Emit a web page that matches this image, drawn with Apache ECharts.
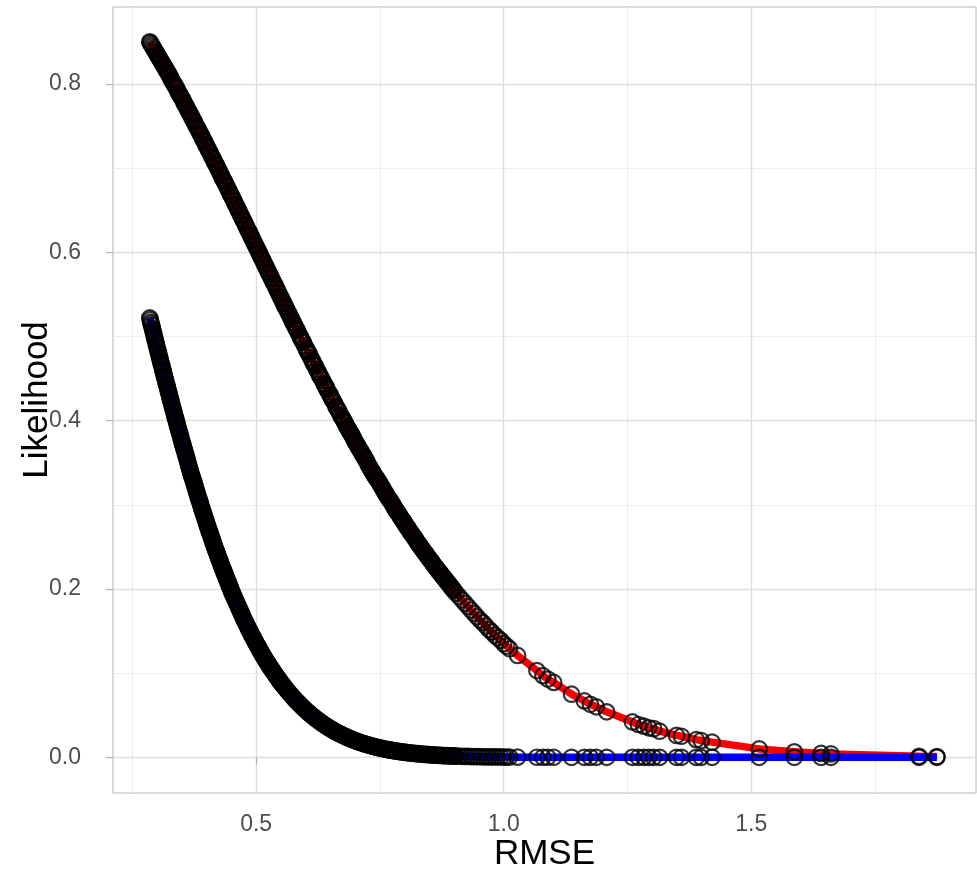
<!DOCTYPE html>
<html>
<head>
<meta charset="utf-8">
<script src="https://cdn.jsdelivr.net/npm/echarts@6/dist/echarts.min.js"></script>
<style>
html,body{margin:0;padding:0;background:#fff;}
#chart{width:977px;height:871px;}
</style>
</head>
<body>
<div id="chart"></div>
<script>
// Dense run of the upper (red) curve: RMSE and likelihood
const rmseRed = [
0.285,0.286,
0.288,0.290,0.292,0.294,0.296,0.298,0.300,0.302,0.304,0.306,
0.308,0.310,0.312,0.314,0.316,0.318,0.320,0.322,0.324,0.326,
0.328,0.330,0.332,0.334,0.336,0.338,0.340,0.342,0.344,0.346,
0.348,0.350,0.352,0.354,0.356,0.358,0.360,0.362,0.364,0.366,
0.368,0.370,0.372,0.374,0.376,0.378,0.380,0.382,0.384,0.386,
0.388,0.390,0.392,0.394,0.396,0.398,0.400,0.402,0.404,0.406,
0.408,0.410,0.412,0.414,0.416,0.418,0.420,0.422,0.424,0.426,
0.428,0.430,0.432,0.434,0.436,0.438,0.440,0.442,0.444,0.446,
0.448,0.450,0.452,0.454,0.456,0.458,0.460,0.462,0.464,0.466,
0.468,0.470,0.472,0.474,0.476,0.478,0.480,0.482,0.484,0.486,
0.488,0.490,0.492,0.494,0.496,0.498,0.500,0.502,0.504,0.506,
0.508,0.510,0.512,0.514,0.516,0.518,0.520,0.522,0.524,0.526,
0.528,0.530,0.532,0.534,0.536,0.538,0.540,0.542,0.544,0.546,
0.548,0.550,0.552,0.554,0.556,0.558,0.560,0.562,0.564,0.566,
0.568,0.570,0.572,0.574,0.576,0.578,0.580,0.582,0.583,0.586,
0.589,0.590,0.592,0.594,0.595,0.598,0.601,0.602,0.604,0.606,
0.607,0.610,0.613,0.614,0.616,0.618,0.619,0.622,0.625,0.626,
0.628,0.630,0.631,0.634,0.637,0.638,0.640,0.642,0.643,0.646,
0.649,0.650,0.652,0.654,0.655,0.658,0.661,0.662,0.664,0.666,
0.667,0.670,0.672,0.674,0.676,0.678,0.680,0.682,0.684,0.686,
0.688,0.690,0.692,0.694,0.696,0.698,0.700,0.702,0.704,0.706,
0.708,0.710,0.712,0.714,0.716,0.718,0.720,0.722,0.724,0.726,
0.728,0.730,0.732,0.734,0.736,0.738,0.740,0.742,0.744,0.746,
0.748,0.750,0.752,0.754,0.756,0.758,0.760,0.762,0.764,0.766,
0.768,0.770,0.772,0.774,0.776,0.778,0.780,0.782,0.784,0.786,
0.788,0.790,0.792,0.794,0.796,0.798,0.800,0.802,0.804,0.806,
0.808,0.810,0.812,0.814,0.816,0.818,0.820,0.822,0.824,0.826,
0.828,0.830,0.832,0.834,0.836,0.838,0.840,0.842,0.844,0.846,
0.848,0.850,0.852,0.854,0.856,0.858,0.860,0.862,0.864,0.866,
0.868,0.870,0.872,0.874,0.876,0.878,0.880,0.882,0.884,0.886,
0.888,0.890,0.892,0.894,0.896,0.898,0.900];
const likRed = [
0.850,0.849,
0.847,0.845,0.843,0.841,0.839,0.837,0.835,0.833,0.831,0.829,
0.827,0.825,0.823,0.821,0.819,0.817,0.815,0.813,0.811,0.809,
0.806,0.804,0.802,0.800,0.798,0.796,0.794,0.791,0.789,0.787,
0.785,0.783,0.781,0.778,0.776,0.774,0.772,0.769,0.767,0.765,
0.763,0.760,0.758,0.756,0.754,0.751,0.749,0.747,0.745,0.742,
0.740,0.738,0.735,0.733,0.731,0.728,0.726,0.724,0.721,0.719,
0.717,0.714,0.712,0.710,0.707,0.705,0.703,0.700,0.698,0.696,
0.693,0.691,0.688,0.686,0.684,0.681,0.679,0.677,0.674,0.672,
0.669,0.667,0.665,0.662,0.660,0.657,0.655,0.653,0.650,0.648,
0.645,0.643,0.640,0.638,0.636,0.633,0.631,0.628,0.626,0.624,
0.621,0.619,0.616,0.614,0.611,0.609,0.607,0.604,0.602,0.599,
0.597,0.594,0.592,0.590,0.587,0.585,0.582,0.580,0.577,0.575,
0.573,0.570,0.568,0.565,0.563,0.561,0.558,0.556,0.553,0.551,
0.548,0.546,0.544,0.541,0.539,0.536,0.534,0.532,0.529,0.527,
0.525,0.522,0.520,0.517,0.515,0.513,0.510,0.508,0.507,0.503,
0.500,0.498,0.496,0.494,0.493,0.489,0.486,0.484,0.482,0.480,
0.479,0.475,0.472,0.470,0.468,0.466,0.465,0.461,0.458,0.457,
0.454,0.452,0.451,0.448,0.444,0.443,0.441,0.439,0.437,0.434,
0.431,0.430,0.427,0.425,0.424,0.421,0.417,0.416,0.414,0.412,
0.411,0.407,0.405,0.403,0.401,0.399,0.397,0.394,0.392,0.390,
0.388,0.386,0.384,0.382,0.380,0.377,0.375,0.373,0.371,0.369,
0.367,0.365,0.363,0.361,0.359,0.357,0.355,0.353,0.351,0.348,
0.346,0.344,0.342,0.340,0.338,0.336,0.334,0.332,0.331,0.329,
0.327,0.325,0.323,0.321,0.319,0.317,0.315,0.313,0.311,0.309,
0.307,0.306,0.304,0.302,0.300,0.298,0.296,0.294,0.292,0.291,
0.289,0.287,0.285,0.283,0.282,0.280,0.278,0.276,0.274,0.273,
0.271,0.269,0.267,0.266,0.264,0.262,0.261,0.259,0.257,0.255,
0.254,0.252,0.250,0.249,0.247,0.245,0.244,0.242,0.241,0.239,
0.237,0.236,0.234,0.233,0.231,0.229,0.228,0.226,0.225,0.223,
0.222,0.220,0.219,0.217,0.216,0.214,0.213,0.211,0.210,0.208,
0.207,0.205,0.204,0.202,0.201,0.199,0.198];

// Dense run of the lower (blue) curve
const rmseBlue = [
0.285,0.286,0.287,
0.288,0.289,0.290,0.291,0.292,0.293,0.294,0.295,0.296,0.297,
0.298,0.299,0.300,0.301,0.302,0.303,0.304,0.305,0.306,0.307,
0.308,0.309,0.310,0.311,0.312,0.313,0.314,0.315,0.316,0.317,
0.318,0.319,0.320,0.321,0.322,0.323,0.324,0.325,0.326,0.327,
0.328,0.329,0.330,0.331,0.332,0.333,0.334,0.335,0.336,0.337,
0.338,0.339,0.340,0.341,0.342,0.343,0.344,0.345,0.346,0.347,
0.348,0.349,0.350,0.351,0.352,0.353,0.354,0.355,0.356,0.357,
0.358,0.359,0.360,0.361,0.362,0.363,0.364,0.365,0.366,0.367,
0.368,0.369,0.370,0.371,0.372,0.373,0.374,0.375,0.376,0.377,
0.378,0.379,0.380,0.381,0.382,0.383,0.384,0.385,0.386,0.387,
0.388,0.389,0.390,0.391,0.392,0.393,0.394,0.395,0.396,0.397,
0.398,0.399,0.400,0.401,0.402,0.403,0.404,0.405,0.406,0.407,
0.408,0.409,0.410,0.411,0.412,0.413,0.414,0.415,0.416,0.417,
0.418,0.419,0.420,0.421,0.422,0.423,0.424,0.425,0.426,0.427,
0.428,0.429,0.430,0.431,0.432,0.433,0.434,0.435,0.436,0.437,
0.438,0.439,0.440,0.441,0.442,0.443,0.444,0.445,0.446,0.447,
0.448,0.449,0.450,0.451,0.452,0.4535,0.455,0.4565,0.458,0.4595,
0.461,0.4625,0.464,0.4655,0.467,0.4685,0.470,0.4715,0.473,0.4745,
0.476,0.4775,0.479,0.4805,0.482,0.4835,0.485,0.4865,0.488,0.4895,
0.491,0.4925,0.494,0.4955,0.497,0.4985,0.500,0.5015,0.503,0.5045,
0.506,0.5075,0.509,0.5105,0.512,0.5135,0.515,0.5165,0.518,0.5195,
0.521,0.5225,0.524,0.5255,0.527,0.5285,0.530,0.5315,0.533,0.5345,
0.536,0.5375,0.539,0.5405,0.542,0.5435,0.545,0.5465,0.548,0.5495,
0.551,0.5525,0.554,0.5555,0.557,0.5595,0.562,0.5645,0.567,0.5695,
0.572,0.5745,0.577,0.5795,0.582,0.5845,0.587,0.5895,0.592,0.5945,
0.597,0.5995,0.602,0.6045,0.607,0.6095,0.612,0.6145,0.617,0.6195,
0.622,0.6245,0.627,0.6295,0.632,0.6345,0.637,0.6395,0.642,0.6445,
0.647,0.6495,0.652,0.6545,0.657,0.6595,0.662,0.6645,0.667,0.6695,
0.672,0.6745,0.677,0.6795,0.682,0.6845,0.687,0.6895,0.692,0.6945,
0.697,0.700,0.703,0.706,0.709,0.712,0.715,0.718,0.721,0.724,
0.727,0.730,0.733,0.736,0.739,0.742,0.745,0.748,0.751,0.754,
0.757,0.760,0.763,0.766,0.769,0.772,0.775,0.778,0.781,0.784,
0.787,0.790,0.793,0.796,0.799,0.802,0.805,0.808,0.811,0.814,
0.817,0.820,0.823,0.826,0.829,0.832,0.835,0.838,0.841,0.844,
0.847,0.850,0.853,0.856,0.859,0.862,0.865,0.868,0.871,0.874,
0.877,0.880,0.883,0.886,0.889,0.892,0.895,0.898,0.901];
const likBlue = [
0.522,0.520,0.517,
0.515,0.513,0.510,0.508,0.506,0.503,0.501,0.498,0.496,0.494,
0.491,0.489,0.487,0.484,0.482,0.480,0.477,0.475,0.473,0.470,
0.468,0.466,0.464,0.461,0.459,0.457,0.454,0.452,0.450,0.448,
0.445,0.443,0.441,0.439,0.436,0.434,0.432,0.430,0.427,0.425,
0.423,0.421,0.418,0.416,0.414,0.412,0.410,0.407,0.405,0.403,
0.401,0.399,0.397,0.394,0.392,0.390,0.388,0.386,0.384,0.382,
0.380,0.377,0.375,0.373,0.371,0.369,0.367,0.365,0.363,0.361,
0.359,0.357,0.355,0.353,0.351,0.348,0.346,0.344,0.342,0.340,
0.338,0.336,0.334,0.332,0.331,0.329,0.327,0.325,0.323,0.321,
0.319,0.317,0.315,0.313,0.311,0.309,0.307,0.306,0.304,0.302,
0.300,0.298,0.296,0.294,0.292,0.291,0.289,0.287,0.285,0.283,
0.282,0.280,0.278,0.276,0.274,0.273,0.271,0.269,0.267,0.266,
0.264,0.262,0.261,0.259,0.257,0.255,0.254,0.252,0.250,0.249,
0.247,0.245,0.244,0.242,0.241,0.239,0.237,0.236,0.234,0.233,
0.231,0.229,0.228,0.226,0.225,0.223,0.222,0.220,0.219,0.217,
0.216,0.214,0.213,0.211,0.210,0.208,0.207,0.205,0.204,0.202,
0.201,0.199,0.198,0.196,0.195,0.193,0.191,0.189,0.187,0.185,
0.183,0.181,0.179,0.177,0.175,0.173,0.171,0.169,0.167,0.165,
0.163,0.161,0.160,0.158,0.156,0.154,0.152,0.151,0.149,0.147,
0.145,0.144,0.142,0.140,0.139,0.137,0.135,0.134,0.132,0.131,
0.129,0.127,0.126,0.124,0.123,0.121,0.120,0.118,0.117,0.115,
0.114,0.113,0.111,0.110,0.108,0.107,0.106,0.104,0.103,0.102,
0.1004,0.0992,0.0979,0.0966,0.0954,0.0941,0.0929,0.0917,0.0905,0.0893,
0.0881,0.0870,0.0858,0.0847,0.0836,0.0818,0.0799,0.0782,0.0764,0.0747,
0.0730,0.0714,0.0697,0.0681,0.0666,0.0650,0.0635,0.0621,0.0606,0.0592,
0.0578,0.0564,0.0551,0.0538,0.0525,0.0512,0.0500,0.0488,0.0476,0.0464,
0.0453,0.0442,0.0431,0.0420,0.0410,0.0399,0.0389,0.0380,0.0370,0.0361,
0.0351,0.0342,0.0334,0.0325,0.0316,0.0308,0.0300,0.0292,0.0285,0.0277,
0.0270,0.0263,0.0256,0.0249,0.0242,0.0236,0.0229,0.0223,0.0217,0.0211,
0.0205,0.0199,0.0192,0.0186,0.0179,0.0173,0.0167,0.0162,0.0156,0.0151,
0.0146,0.0141,0.0136,0.0131,0.0127,0.0122,0.0118,0.0114,0.0110,0.0106,
0.0102,0.0099,0.0095,0.0092,0.0088,0.0085,0.0082,0.0079,0.0076,0.0073,
0.0070,0.0068,0.0065,0.0063,0.0061,0.0058,0.0056,0.0054,0.0052,0.0050,
0.0048,0.0046,0.0044,0.0043,0.0041,0.0039,0.0038,0.0036,0.0035,0.0034,
0.0032,0.0031,0.0030,0.0029,0.0027,0.0026,0.0025,0.0024,0.0023,0.0022,
0.0021,0.0020,0.0020,0.0019,0.0018,0.0017,0.0016,0.0016,0.0015];

// Sparse runs (same RMSE for both curves)
const rmseTail = [0.904,0.910,0.916,0.922,0.928,0.934,0.940,0.946,0.952,0.958,0.964,0.970,0.976,0.982,0.988,0.994,1.000,1.006,1.012,
1.028,1.067,1.079,1.089,1.101,1.137,1.163,1.175,1.187,1.208,1.260,1.272,1.283,1.293,1.303,1.315,1.349,1.359,1.389,1.399,1.421,1.516,1.587,1.641,1.661,1.839,1.875];
const likRedTail = [0.195,0.191,0.187,0.183,0.179,0.175,0.171,0.167,0.163,0.160,0.156,0.152,0.149,0.145,0.142,0.139,0.135,0.132,0.129,
0.121,0.103,0.097,0.093,0.089,0.075,0.067,0.063,0.060,0.054,0.042,0.039,0.037,0.035,0.034,0.031,0.026,0.025,0.021,0.020,0.018,0.010,0.0065,0.0046,0.0040,0.0012,0.0009];
const likBlueTail = [0.0014,0.0013,0.0012,0.0011,0.0010,0.0009,0.0009,0.0008,0.0007,0.0006,0.0006,0.0005,0.0005,0.0004,0.0004,0.0004,0.0003,0.0003,0.0003,
0.0002,0.0001,0.0001,0.0001,0.0001,0,0,0,0,0,0,0,0,0,0,0,0,0,0,0,0,0,0,0,0,0,0];

const xTicks = [0.5, 1.0, 1.5];
const xMinor = [0.25, 0.75, 1.25, 1.75];
const yTicks = [0.0, 0.2, 0.4, 0.6, 0.8];
const yMinor = [0.1, 0.3, 0.5, 0.7];

const redPts = rmseRed.map((x, i) => [x, likRed[i]]).concat(rmseTail.map((x, i) => [x, likRedTail[i]]));
const bluePts = rmseBlue.map((x, i) => [x, likBlue[i]]).concat(rmseTail.map((x, i) => [x, likBlueTail[i]]));

const FONT = 'Liberation Sans, Arial, sans-serif';
const majorStyle = { color: '#dedede', width: 1.3, type: 'solid' };
const minorStyle = { color: '#e8e8e8', width: 0.8, type: 'solid' };

const gridLines = []
  .concat(xMinor.map(v => ({ xAxis: v, lineStyle: minorStyle })))
  .concat(yMinor.map(v => ({ yAxis: v, lineStyle: minorStyle })))
  .concat(xTicks.map(v => ({ xAxis: v, lineStyle: majorStyle })))
  .concat(yTicks.map(v => ({ yAxis: v, lineStyle: majorStyle })));

const pointStyle = { color: 'rgba(0,0,0,0)', borderColor: '#000000', borderWidth: 2.2 };

const chart = echarts.init(document.getElementById('chart'), null, { renderer: 'canvas' });
chart.setOption({
  animation: false,
  backgroundColor: '#ffffff',
  grid: {
    left: 113, right: 1, top: 7, bottom: 78,
    containLabel: false, outerBoundsMode: 'none',
    show: true, borderColor: '#b3b3b3', borderWidth: 1, backgroundColor: 'transparent'
  },
  xAxis: {
    type: 'value', min: 0.2108, max: 1.954,
    axisLine: { show: false },
    splitLine: { show: false },
    axisTick: { show: true, customValues: xTicks, length: 7, lineStyle: { color: '#b3b3b3', width: 1.3 } },
    axisLabel: { customValues: xTicks, formatter: v => v.toFixed(1), color: '#4d4d4d', fontSize: 23, fontFamily: FONT, margin: 20 },
    name: 'RMSE', nameLocation: 'middle', nameGap: 44, nameMoveOverlap: false,
    nameTextStyle: { fontSize: 35, color: '#000000', fontFamily: FONT }
  },
  yAxis: {
    type: 'value', min: -0.0424, max: 0.8914,
    axisLine: { show: false },
    splitLine: { show: false },
    axisTick: { show: true, customValues: yTicks, length: 7, lineStyle: { color: '#b3b3b3', width: 1.3 } },
    axisLabel: { customValues: yTicks, formatter: v => v.toFixed(1), color: '#4d4d4d', fontSize: 23, fontFamily: FONT, margin: 32 },
    name: 'Likelihood', nameLocation: 'middle', nameGap: 58, nameRotate: 90, nameMoveOverlap: false,
    nameTextStyle: { fontSize: 35, color: '#000000', fontFamily: FONT }
  },
  series: [
    {
      type: 'line', name: 'gridlines', data: [], silent: true,
      markLine: { silent: true, symbol: ['none', 'none'], z: 0, label: { show: false }, animation: false, data: gridLines }
    },
    {
      type: 'line', name: 'redLine', data: redPts, showSymbol: false, symbol: 'none', silent: true, z: 2,
      lineStyle: { color: '#ff0000', width: 7.5 }
    },
    {
      type: 'line', name: 'blueLine', data: bluePts, showSymbol: false, symbol: 'none', silent: true, z: 2,
      lineStyle: { color: '#0000ff', width: 7.5 }
    },
    {
      type: 'scatter', name: 'redPoints', data: redPts, symbol: 'circle', symbolSize: 15.5, z: 3, silent: true,
      large: false, progressive: 0, itemStyle: pointStyle
    },
    {
      type: 'scatter', name: 'bluePoints', data: bluePts, symbol: 'circle', symbolSize: 15.5, z: 3, silent: true,
      large: false, progressive: 0, itemStyle: pointStyle
    }
  ]
});
</script>
</body>
</html>
